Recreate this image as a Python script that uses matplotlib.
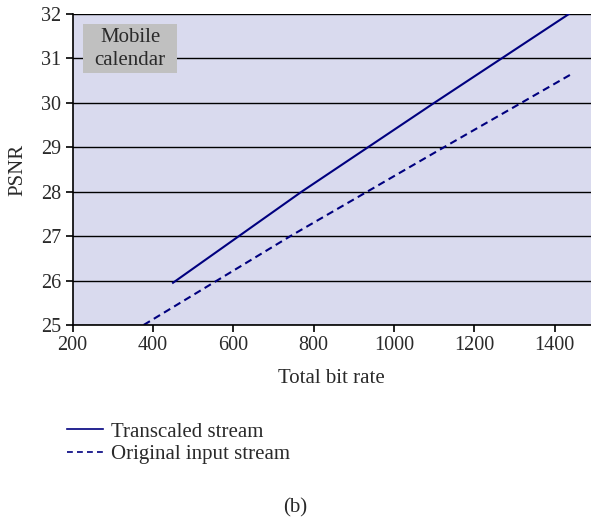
import matplotlib
matplotlib.use("Agg")
import matplotlib.pyplot as plt
from matplotlib.lines import Line2D
from matplotlib.patches import Rectangle

# PSNR vs total bit rate, mobile calendar sequence
rate_transcaled = [450, 770, 1100, 1435]
psnr_transcaled = [25.95, 28.0, 30.0, 32.0]
rate_original = [377, 742, 1124, 1438]
psnr_original = [25.0, 27.0, 29.0, 30.63]
xticks = [200, 400, 600, 800, 1000, 1200, 1400]
yticks = [25, 26, 27, 28, 29, 30, 31, 32]

plt.rcParams["font.family"] = ["Liberation Serif", "DejaVu Serif"]
NAVY = "#00007f"
TXT = "#2a2a2a"
FS = 15

fig = plt.figure(figsize=(5.91, 5.31), dpi=100)
ax = fig.add_axes([0.1227, 0.388, 0.8773, 0.5856])
ax.set_facecolor("#d9daee")

ax.plot(rate_transcaled, psnr_transcaled, color=NAVY, lw=1.5)
ax.plot(rate_original, psnr_original, color=NAVY, lw=1.5, ls=(0, (3.5, 2.2)))

ax.set_xlim(200, 1490)
ax.set_ylim(25, 32)
ax.set_xticks(xticks)
ax.set_yticks(yticks)
ax.yaxis.grid(True, color="black", lw=1.0)
ax.set_axisbelow(True)
for s in ("top", "right"):
    ax.spines[s].set_visible(False)
for s in ("left", "bottom"):
    ax.spines[s].set_color("black")
    ax.spines[s].set_linewidth(1.2)
ax.tick_params(direction="out", length=5, width=1.2, labelsize=14.5, labelcolor=TXT, pad=3)

ax.set_xlabel("Total bit rate", fontsize=FS, color=TXT, labelpad=10)
ax.set_ylabel("PSNR", fontsize=FS, color=TXT, labelpad=10)

# sequence tag in the upper left corner
ax.add_patch(Rectangle((0.02, 0.81), 0.1815, 0.158, transform=ax.transAxes,
                       facecolor="#c0c0c0", edgecolor="none", zorder=3))
ax.text(0.111, 0.887, "Mobile\ncalendar", transform=ax.transAxes, ha="center", va="center",
        fontsize=FS, color=TXT, linespacing=1.3, zorder=4)

handles = [Line2D([], [], color=NAVY, lw=1.2),
           Line2D([], [], color=NAVY, lw=1.2, ls=(0, (3.5, 2.5)))]
fig.legend(handles, ["Transcaled stream", "Original input stream"], loc="upper left",
           bbox_to_anchor=(0.113, 0.205), frameon=False, fontsize=FS, handlelength=1.75,
           handletextpad=0.35, labelspacing=0.12, labelcolor=TXT, borderaxespad=0,
           borderpad=0)

fig.text(0.499, 0.043, "(b)", ha="center", va="center", fontsize=FS, color=TXT)

fig.savefig("out.png", dpi=100)
